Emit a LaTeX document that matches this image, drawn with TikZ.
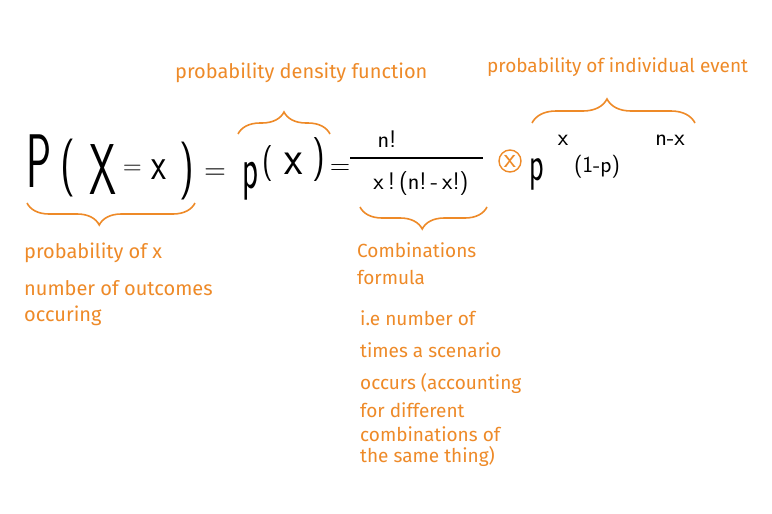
\documentclass[tikz,border=0pt]{standalone}
\usepackage{fontspec}
\setmainfont{Fira Sans}
\usetikzlibrary{decorations.pathreplacing}
\definecolor{orng}{RGB}{238,138,40}
\tikzset{
  note/.style={text=orng, font=\fontsize{20}{24}\selectfont, anchor=west, inner sep=0pt},
  notes/.style={text=orng, font=\fontsize{19}{24}\selectfont, anchor=west, inner sep=0pt},
  sym/.style={text=black, inner sep=0pt, font=\sffamily\fontsize{#1}{#1}\selectfont},
  brc/.style={draw=orng, line width=1.6pt, decorate, decoration={brace, amplitude=#1}},
  brc/.default=18pt
}
\newcommand{\nar}[2]{\scalebox{#1}[1]{#2}}
\begin{document}
\begin{tikzpicture}[x=1pt,y=-1pt]
\useasboundingbox[fill=white] (0,0) rectangle (772,514);
% top labels
\node[note] (pdf) at (175,73) {probability density function};
\node[notes] (ind) at (487,67) {probability of individual event};
% main formula
\node[sym=76] (P) at (39.5,161.5) {\nar{0.55}{P}};
\node[sym=58] (lp1) at (67.5,168) {\nar{0.7}{(}};
\node[sym=72] (X) at (102.5,170) {\nar{0.6}{X}};
\node[sym=26] (eq0) at (132.5,170) {=};
\node[sym=46] (x0) at (158.5,170) {\nar{0.75}{x}};
\node[sym=58] (rp1) at (186.5,171) {\nar{0.7}{)}};
\node[sym=30] (eq1) at (215,174) {=};
\node[sym=60] (p) at (250,181) {\nar{0.55}{p}};
\node[sym=36] (lp2) at (268,164) {\nar{0.8}{(}};
\node[sym=50] (x1) at (294,164) {\nar{0.85}{x}};
\node[sym=44] (rp2) at (318.5,160) {\nar{0.8}{)}};
\node[sym=28] (eq2) at (340,170) {=};
\node[sym=24] (num) at (387,139) {n!};
\coordinate (fl) at (350,158);
\coordinate (fr) at (483,158);
\draw[line width=1.2pt] (fl) -- (fr);
\node[sym=24] (den) at (421,184) {x\,!\,(n!\,-\,x!)};
\node[draw=orng, line width=1.4pt, circle, inner sep=0pt, minimum size=22pt] (times) at (510,161) {};
\node[text=orng, font=\sffamily\fontsize{28}{28}\selectfont, inner sep=0pt] (tx) at (times.center) {x};
\node[sym=50] (p2) at (537,174) {\nar{0.6}{p}};
\node[sym=24] (sx) at (563,140) {x};
\node[sym=23] (omp) at (597,167) {(1-p)};
\node[sym=24] (snx) at (670,140) {n-x};
% braces
\draw[brc=22pt] (238,134) -- (330,134);
\draw[brc=24pt, decoration={aspect=0.46}] (532,123) -- (695,123);
\draw[brc=22pt, decoration={aspect=0.57}] (195,203) -- (27,203);
\draw[brc=22pt, decoration={aspect=0.51}] (487,207) -- (360,207);
% bottom labels
\node[note] (l1) at (24,253) {probability of x};
\node[note] (l2) at (24,288) {number of outcomes};
\node[note] (l3) at (24,316) {occuring};
\node[notes] (c1) at (357,250) {Combinations};
\node[notes] (c2) at (357,277) {formula};
\node[notes] (i1) at (360,318) {i.e number of};
\node[notes] (i2) at (360,350) {times a scenario};
\node[notes] (i3) at (360,383) {occurs (accounting};
\node[notes] (i4) at (360,410) {for different};
\node[notes] (i5) at (360,434) {combinations of};
\node[notes] (i6) at (360,456) {the same thing)};
\end{tikzpicture}
\end{document}
